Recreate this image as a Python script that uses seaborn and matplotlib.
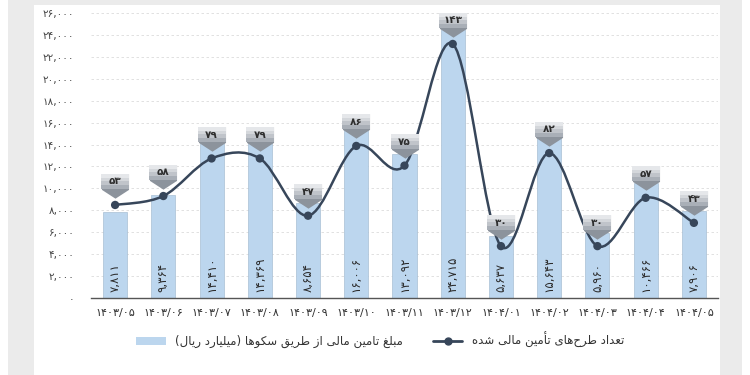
import matplotlib
matplotlib.use("Agg")
import matplotlib.pyplot as plt
import matplotlib.transforms as mtransforms
from matplotlib.path import Path
from matplotlib.patches import PathPatch, Rectangle, Patch
from matplotlib.lines import Line2D
import seaborn as sns

# Data
months = ["1403/05", "1403/06", "1403/07", "1403/08", "1403/09", "1403/10", "1403/11",
          "1403/12", "1404/01", "1404/02", "1404/03", "1404/04", "1404/05"]
amounts = [7811, 9364, 14410, 14369, 8654, 16006, 13092, 24715, 5637, 15643, 5960, 10466, 7906]
projects = [53, 58, 79, 79, 47, 86, 75, 143, 30, 82, 30, 57, 43]
y_ticks = list(range(0, 26001, 2000))
bar_legend = "مبلغ تامین مالی از طریق سکوها (میلیارد ریال)"
line_legend = "تعداد طرح\u200cهای تأمین مالی شده"

BAR_COLOR = "#bcd6ee"
LINE_COLOR = "#37465a"

# minimal Persian shaping (matplotlib has no bidi / joining support)
FORMS = {
    "ا": ("\uFE8D", "\uFE8E", None, None),
    "أ": ("\uFE83", "\uFE84", None, None),
    "د": ("\uFEA9", "\uFEAA", None, None),
    "ر": ("\uFEAD", "\uFEAE", None, None),
    "ز": ("\uFEAF", "\uFEB0", None, None),
    "و": ("\uFEED", "\uFEEE", None, None),
    "ب": ("\uFE8F", "\uFE90", "\uFE91", "\uFE92"),
    "ت": ("\uFE95", "\uFE96", "\uFE97", "\uFE98"),
    "ح": ("\uFEA1", "\uFEA2", "\uFEA3", "\uFEA4"),
    "س": ("\uFEB1", "\uFEB2", "\uFEB3", "\uFEB4"),
    "ش": ("\uFEB5", "\uFEB6", "\uFEB7", "\uFEB8"),
    "ط": ("\uFEC1", "\uFEC2", "\uFEC3", "\uFEC4"),
    "ع": ("\uFEC9", "\uFECA", "\uFECB", "\uFECC"),
    "غ": ("\uFECD", "\uFECE", "\uFECF", "\uFED0"),
    "ق": ("\uFED5", "\uFED6", "\uFED7", "\uFED8"),
    "ل": ("\uFEDD", "\uFEDE", "\uFEDF", "\uFEE0"),
    "م": ("\uFEE1", "\uFEE2", "\uFEE3", "\uFEE4"),
    "ن": ("\uFEE5", "\uFEE6", "\uFEE7", "\uFEE8"),
    "ه": ("\uFEE9", "\uFEEA", "\uFEEB", "\uFEEC"),
    "ی": ("\uFBFC", "\uFBFD", "\uFBFE", "\uFBFF"),
    "ک": ("\uFB8E", "\uFB8F", "\uFB90", "\uFB91"),
}


def shape_fa(text):
    out = []
    for i, c in enumerate(text):
        if c not in FORMS:
            out.append(c)
            continue
        prev = text[i - 1] if i > 0 else None
        nxt = text[i + 1] if i + 1 < len(text) else None
        join_prev = prev in FORMS and FORMS[prev][2] is not None
        join_next = FORMS[c][2] is not None and nxt in FORMS
        iso, fin, ini, med = FORMS[c]
        if join_prev and join_next:
            out.append(med)
        elif join_prev:
            out.append(fin)
        elif join_next:
            out.append(ini)
        else:
            out.append(iso)
    s = "".join(out).replace("\u200c", "")[::-1]
    return s.translate(str.maketrans("()", ")("))


def fa_num(s):
    return str(s).translate(str.maketrans("0123456789", "۰۱۲۳۴۵۶۷۸۹"))


sns.set_theme(style="white")
plt.rcParams["font.family"] = ["DejaVu Sans"]

fig = plt.figure(figsize=(7.5, 3.75), dpi=100)
fig.patch.set_facecolor("white")
fig.patches.append(Rectangle((8 / 750, 0), 734 / 750, 1, transform=fig.transFigure,
                             facecolor="#ebebeb", edgecolor="none", zorder=-10))
fig.patches.append(Rectangle((34 / 750, 0), 686 / 750, 370 / 375, transform=fig.transFigure,
                             facecolor="white", edgecolor="none", zorder=-9))

ax = fig.add_axes([91 / 750, 77 / 375, 627 / 750, 285 / 375])
ax.set_facecolor("none")

x_labels = [fa_num(m) for m in months]
sns.barplot(x=x_labels, y=amounts, ax=ax, color=BAR_COLOR, saturation=1,
            width=0.5, edgecolor="#a9bfd4", linewidth=0.5, zorder=2)

ax.set_ylim(0, 26000)
ax.set_xlim(-0.5, len(months) - 0.5)
ax.set_yticks(y_ticks)
ax.set_yticklabels([fa_num(f"{v:,}") for v in y_ticks], fontsize=7.5, color="#444444")
ax.tick_params(axis="y", length=0, pad=12)
ax.tick_params(axis="x", length=0, pad=7, labelsize=8, labelcolor="#333333")
for v in y_ticks[1:]:
    ax.axhline(v, color="#dcdcdc", lw=0.6, ls=(0, (3, 3)), zorder=0)
for s in ["top", "right", "left"]:
    ax.spines[s].set_visible(False)
ax.spines["bottom"].set_color("#555555")
ax.spines["bottom"].set_linewidth(1.0)
ax.set_xlabel("")
ax.set_ylabel("")

for i, v in enumerate(amounts):
    ax.text(i, 550, fa_num(f"{v:,}"), rotation=90, ha="center", va="bottom",
            fontsize=8.5, color="#2b2b2b", zorder=5)

# project counts on a hidden secondary axis
ax2 = ax.twinx()
ax2.set_ylim(1.0, 160.3)
ax2.axis("off")

pts = list(zip(range(len(projects)), projects))
verts = [pts[0]]
codes = [Path.MOVETO]
for i in range(len(pts) - 1):
    p0 = pts[max(i - 1, 0)]
    p1 = pts[i]
    p2 = pts[i + 1]
    p3 = pts[min(i + 2, len(pts) - 1)]
    c1 = (p1[0] + (p2[0] - p0[0]) / 6, p1[1] + (p2[1] - p0[1]) / 6)
    c2 = (p2[0] - (p3[0] - p1[0]) / 6, p2[1] - (p3[1] - p1[1]) / 6)
    verts += [c1, c2, p2]
    codes += [Path.CURVE4] * 3
ax2.add_patch(PathPatch(Path(verts, codes), facecolor="none", edgecolor=LINE_COLOR,
                        lw=1.8, zorder=3))
sns.scatterplot(x=list(range(len(projects))), y=projects, ax=ax2, color=LINE_COLOR,
                s=36, edgecolor="none", zorder=4)

# callout badges: pentagon pointing down, shaded light (top) to dark (bottom)
def band(y0, y1):
    return Path([(-1, y0), (1, y0), (1, y1), (-1, y1), (-1, y0)], closed=True)


pentagon = Path([(-1, 0.9), (1, 0.9), (1, -0.25), (0, -0.9), (-1, -0.25), (-1, 0.9)],
                closed=True)
layers = [(pentagon, "#8c939c"), (band(0.9, -0.25), "#a9afb7"), (band(0.9, 0.05), "#c0c4ca"),
          (band(0.9, 0.35), "#d4d7db"), (band(0.9, 0.62), "#e5e7ea")]
badge = mtransforms.offset_copy(ax2.transData, fig=fig, y=14, units="points")
label = mtransforms.offset_copy(ax2.transData, fig=fig, y=17, units="points")
for i, c in enumerate(projects):
    for shape, col in layers:
        ax2.plot(i, c, marker=shape, ms=19.5, color=col, mew=0, transform=badge,
                 zorder=5, clip_on=False)
    ax2.text(i, c, fa_num(c), transform=label, ha="center", va="center", fontsize=7.5,
             fontweight="bold", color="#2e2e2e", zorder=6, clip_on=False)

handles = [Patch(facecolor=BAR_COLOR, edgecolor="none"),
           Line2D([], [], color=LINE_COLOR, lw=2, marker="o", ms=5)]
fig.legend(handles, [shape_fa(bar_legend), shape_fa(line_legend)], ncol=2,
           loc="center", bbox_to_anchor=(0.507, 0.093), frameon=False, fontsize=8.5,
           handlelength=2.5, columnspacing=2.5, labelcolor="#333333")

fig.savefig("out.png", dpi=100)
